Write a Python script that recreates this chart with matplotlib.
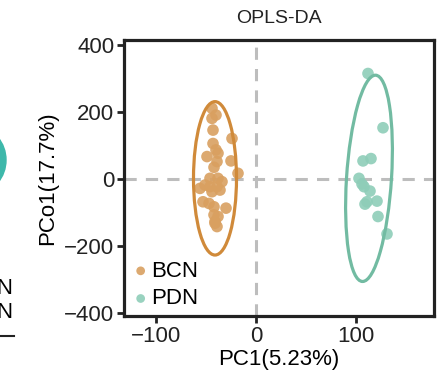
import matplotlib
matplotlib.use("Agg")
import matplotlib.pyplot as plt
import matplotlib.patches as patches
import numpy as np

plt.rcParams['font.family'] = ['Liberation Sans', 'DejaVu Sans']

# 数据
bcn_x = [-44, -40, -44, -43, -24, -43, -40, -38, -49, -39, -25, -42, -18, -46, -38,
         -56, -51, -46, -39, -34, -36, -44, -53, -47, -42, -30, -42, -38, -41, -39, -41]
bcn_y = [211, 191, 181, 146, 121, 106, 87, 77, 67, 52, 54, 35, 17, 2, 2,
         -28, -18, -23, -23, -8, -33, -38, -68, -73, -83, -87, -107, -112, -127, -142, -132]
pdn_x = [112, 127, 107, 115, 103, 106, 108, 114, 111, 109, 121, 122, 131]
pdn_y = [315, 153, 54, 61, 2, -15, -23, -36, -68, -75, -66, -112, -164]

# 置信椭圆 (中心x, 中心y, 宽, 高, 角度)
bcn_ell = (-41, 2, 43, 458, 0)
pdn_ell = (113, 2, 45, 616, -1.2)

groups = ['BCN', 'PDN']
point_colors = ['#D9A060', '#8ECDB8']
line_colors = ['#D08A3A', '#72BBA2']

fs = 16

fig = plt.figure(figsize=(4.47, 3.90), dpi=100)
ax = fig.add_axes([124 / 447, 74 / 390, 310 / 447, 276 / 390])

# 参考虚线
ax.axhline(0, color='#BDBDBD', lw=2.2, ls=(0, (4, 3)), zorder=1)
ax.axvline(0, color='#BDBDBD', lw=2.2, ls=(0, (4, 3)), zorder=1)

for xs, ys, ell, pc, lc, name in zip([bcn_x, pdn_x], [bcn_y, pdn_y], [bcn_ell, pdn_ell],
                                     point_colors, line_colors, groups):
    ax.scatter(xs, ys, s=70, color=pc, alpha=0.9, edgecolors='none', label=name, zorder=3)
    e = patches.Ellipse((ell[0], ell[1]), ell[2], ell[3], angle=ell[4],
                        fill=False, edgecolor=lc, lw=2.3, zorder=4)
    ax.add_patch(e)

ax.set_xlim(-132, 178)
ax.set_ylim(-409, 415)
ax.set_xticks([-100, 0, 100])
ax.set_yticks([-400, -200, 0, 200, 400])
for sp in ax.spines.values():
    sp.set_linewidth(2.3)
    sp.set_color('#222222')
ax.tick_params(width=2, length=5, pad=2, labelsize=fs, color='#222222', labelcolor='#222222')
ax.set_xlabel('PC1(5.23%)', fontsize=fs, labelpad=2)
ax.set_ylabel('PCo1(17.7%)', fontsize=fs, labelpad=4)
ax.set_title('OPLS-DA', fontsize=14, pad=12, color='#222222')

leg = ax.legend(loc='lower left', frameon=False, fontsize=fs, handletextpad=0.0,
                borderaxespad=0.0, borderpad=0.3, labelspacing=0.3, markerscale=0.75,
                handlelength=0.9)

# 左侧相邻子图的残留部分
fig.text(13 / 447, 1 - 289 / 390, 'BCN', ha='right', va='center', fontsize=fs)
fig.text(13 / 447, 1 - 312 / 390, 'PDN', ha='right', va='center', fontsize=fs)
fig.add_artist(plt.Line2D([0, 14 / 447], [1 - 336 / 390] * 2, color='#222222', lw=1.5))
fig.add_artist(patches.Ellipse((-22 / 447, 1 - 160 / 390), 56 / 447, 64 / 390,
                               transform=fig.transFigure, color='#3DB8AA'))

fig.savefig('out.png', dpi=100)
